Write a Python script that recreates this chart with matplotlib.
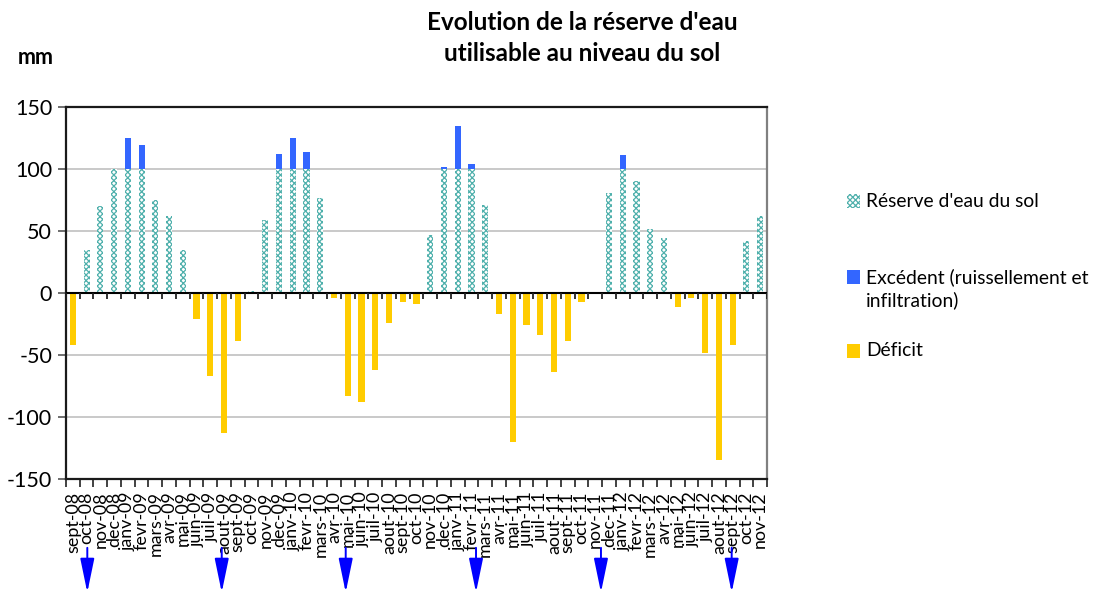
import matplotlib
matplotlib.use("Agg")
import matplotlib.pyplot as plt
from matplotlib.patches import Rectangle
import numpy as np

plt.rcParams['font.family'] = ['Lato', 'DejaVu Sans']
plt.rcParams['hatch.linewidth'] = 0.9
plt.rcParams['axes.unicode_minus'] = False

months = ['sept-08', 'oct-08', 'nov-08', 'dec-08',
          'janv-09', 'fevr-09', 'mars-09', 'avr-09', 'mai-09', 'juin-09',
          'juil-09', 'aout-09', 'sept-09', 'oct-09', 'nov-09', 'dec-09',
          'janv-10', 'fevr-10', 'mars-10', 'avr-10', 'mai-10', 'juin-10',
          'juil-10', 'aout-10', 'sept-10', 'oct-10', 'nov-10', 'dec-10',
          'janv-11', 'fevr-11', 'mars-11', 'avr-11', 'mai-11', 'juin-11',
          'juil-11', 'aout-11', 'sept-11', 'oct-11', 'nov-11', 'dec-11',
          'janv-12', 'fevr-12', 'mars-12', 'avr-12', 'mai-12', 'juin-12',
          'juil-12', 'aout-12', 'sept-12', 'oct-12', 'nov-12']

reserve = [0, 35, 70, 100,
           100, 100, 75, 62, 35, 0, 0, 0, 0, 2, 59, 100,
           100, 100, 77, 0, 0, 0, 0, 0, 0, 0, 47, 100,
           100, 100, 71, 0, 0, 0, 0, 0, 0, 0, 0, 81,
           100, 90, 52, 44, 0, 0, 0, 0, 0, 42, 62]

excedent = [0, 0, 0, 0,
            25, 19, 0, 0, 0, 0, 0, 0, 0, 0, 0, 12,
            25, 14, 0, 0, 0, 0, 0, 0, 0, 0, 0, 2,
            35, 4, 0, 0, 0, 0, 0, 0, 0, 0, 0, 0,
            11, 0, 0, 0, 0, 0, 0, 0, 0, 0, 0]

deficit = [-42, 0, 0, 0,
           0, 0, 0, 0, 0, -21, -67, -113, -39, 0, 0, 0,
           0, 0, 0, -4, -83, -88, -62, -24, -7, -9, 0, 0,
           0, 0, 0, -17, -120, -26, -34, -64, -39, -7, 0, 0,
           0, 0, 0, 0, -11, -4, -48, -135, -42, 0, 0]

arrow_positions = [1.05, 10.83, 19.85, 29.33, 38.42, 47.93]

series_names = ["Réserve d'eau du sol", "Excédent (ruissellement et", "Déficit"]
series_name_cont = "infiltration)"
title = "Evolution de la réserve d'eau\nutilisable au niveau du sol"

c_res = '#4fb0ac'
c_exc = '#3366ff'
c_def = '#ffcc00'

W, H = 1098, 594
fig = plt.figure(figsize=(W / 100, H / 100), dpi=100)
ax = fig.add_axes([66 / W, 1 - 479 / H, (767 - 66) / W, (479 - 107) / H])

x = np.arange(len(months))
bw = 0.45
ax.bar(x, reserve, width=bw, facecolor='white', edgecolor=c_res, hatch='xxxxxx',
       linewidth=0, zorder=3)
ax.bar(x, excedent, width=bw, bottom=reserve, color=c_exc, linewidth=0, zorder=3)
ax.bar(x, deficit, width=bw, color=c_def, linewidth=0, zorder=3)

ax.set_xlim(-0.5, len(months) - 0.5)
ax.set_ylim(-150, 150)
ax.set_yticks(np.arange(-150, 151, 50))
ax.grid(axis='y', color='#c0c0c0', linewidth=1.2, zorder=0)
ax.set_axisbelow(True)

ax.axhline(0, color='black', linewidth=1.5, zorder=4)
ax.vlines(np.arange(-0.5, len(months), 1), -5.2, 0, color='#222222',
          linewidth=1.3, zorder=4)

ax.set_xticks(np.arange(-0.5, len(months), 1))
ax.set_xticklabels([])
ax.set_xticks(x, minor=True)
ax.set_xticklabels(months, minor=True, rotation=90, fontsize=12.9,
                   va='top', ha='center')
ax.tick_params(axis='x', which='major', direction='out', length=6, width=1.3,
               color='#333333')
ax.tick_params(axis='x', which='minor', length=0, pad=9)
ax.tick_params(axis='y', direction='out', length=6, width=1.2, labelsize=15.5,
               color='#555555', pad=4)

for s in ['left', 'bottom', 'top']:
    ax.spines[s].set_color('#1a1a1a')
    ax.spines[s].set_linewidth(1.6)
ax.spines['right'].set_color('#808080')
ax.spines['right'].set_linewidth(1.6)

# title and unit
fig.text(582 / W, 1 - 38 / H, title, ha='center', va='center', fontsize=17.5,
         fontweight='bold', linespacing=1.38)
fig.text(36 / W, 1 - 58 / H, 'mm', ha='center', va='center', fontsize=15.5,
         fontweight='bold')

# legend
leg_rows = [201, 277, 351]
leg_styles = [dict(facecolor='white', edgecolor=c_res, hatch='xxxxxx', linewidth=0),
              dict(facecolor=c_exc, linewidth=0),
              dict(facecolor=c_def, linewidth=0)]
for name, row, kw in zip(series_names, leg_rows, leg_styles):
    fig.add_artist(Rectangle((847 / W, 1 - (row + 7) / H), 13 / W, 14 / H,
                             transform=fig.transFigure, **kw))
    fig.text(866 / W, 1 - row / H, name, ha='left', va='center', fontsize=13.9)
fig.text(866 / W, 1 - 300 / H, series_name_cont, ha='left', va='center',
         fontsize=13.9)

# arrows
for p in arrow_positions:
    ax.annotate('', xy=(p, -0.305), xytext=(p, -0.185),
                xycoords=ax.get_xaxis_transform(),
                textcoords=ax.get_xaxis_transform(),
                arrowprops=dict(arrowstyle='-|>,head_length=1.45,head_width=0.3',
                                color='#0000ff', lw=1.4, mutation_scale=14.4,
                                shrinkA=0, shrinkB=0),
                annotation_clip=False)

fig.savefig('out.png', dpi=100)
